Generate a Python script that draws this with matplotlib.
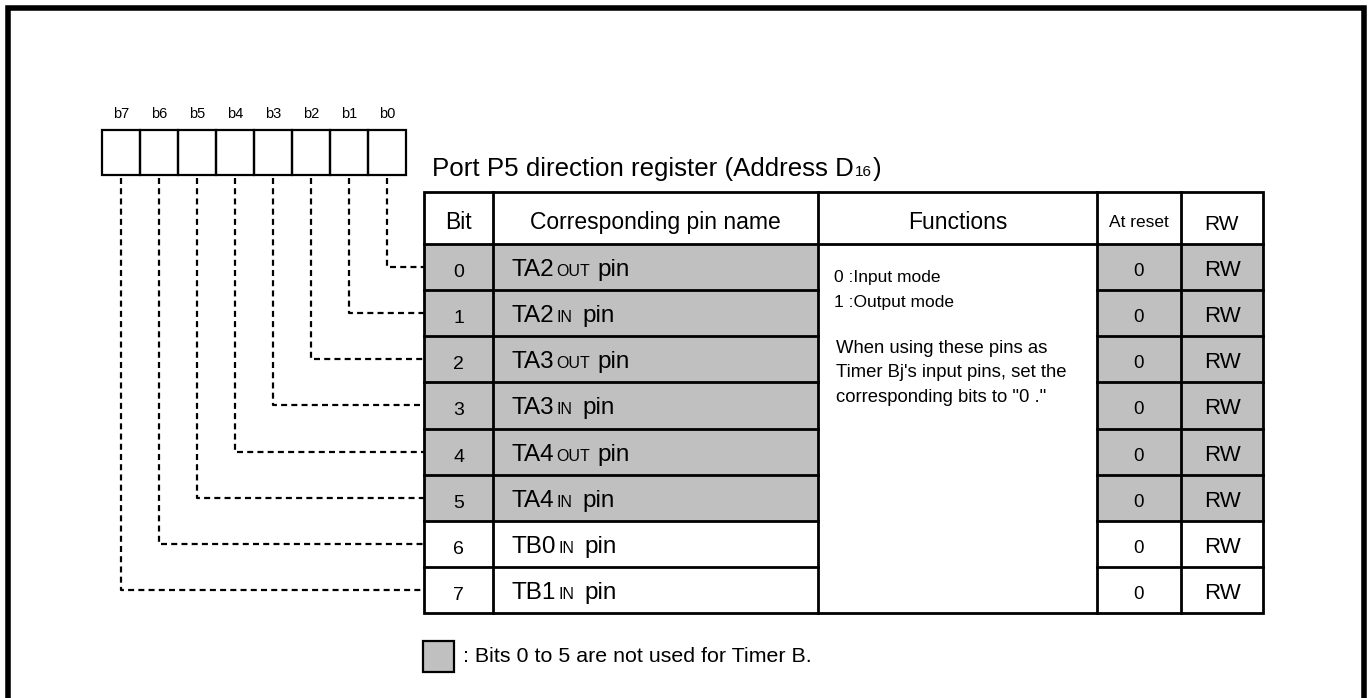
import matplotlib
matplotlib.use("Agg")
import matplotlib.pyplot as plt
from matplotlib.patches import Rectangle

plt.rcParams['font.family'] = ['Liberation Sans', 'DejaVu Sans']

# ---------------- data ----------------
bit_box_labels = ["b7", "b6", "b5", "b4", "b3", "b2", "b1", "b0"]
title_main = "Port P5 direction register (Address D"
title_sub = "16"
title_end = ")"
headers = ["Bit", "Corresponding pin name", "Functions", "At reset", "RW"]
bit_numbers = [0, 1, 2, 3, 4, 5, 6, 7]
pin_base = ["TA2", "TA2", "TA3", "TA3", "TA4", "TA4", "TB0", "TB1"]
pin_sub = ["OUT", "IN", "OUT", "IN", "OUT", "IN", "IN", "IN"]
pin_tail = "pin"
at_reset = ["0", "0", "0", "0", "0", "0", "0", "0"]
rw = ["RW", "RW", "RW", "RW", "RW", "RW", "RW", "RW"]
shaded = [True, True, True, True, True, True, False, False]
func_lines_a = ["0 :Input mode", "1 :Output mode"]
func_lines_b = ["When using these pins as", "Timer Bj's input pins, set the",
                "corresponding bits to \"0 .\""]
legend_text = ": Bits 0 to 5 are not used for Timer B."

# ---------------- layout ----------------
W, H = 1368, 698
GRAY = "#c0c0c0"
fig = plt.figure(figsize=(W / 100, H / 100), dpi=100)
ax = fig.add_axes([0, 0, 1, 1])
ax.set_xlim(0, W)
ax.set_ylim(H, 0)
ax.axis("off")
renderer = fig.canvas.get_renderer()

# outer frame
ax.plot([7.5, 7.5, 1364, 1364], [H + 10, 7.5, 7.5, H + 10], color="black",
        lw=4, solid_joinstyle="miter", solid_capstyle="butt")

# bit boxes
box_x0, box_w, box_y0, box_h = 102, 38, 130, 45
for i, lab in enumerate(bit_box_labels):
    x = box_x0 + i * box_w
    ax.add_patch(Rectangle((x, box_y0), box_w, box_h, fill=False, ec="black", lw=1.6))
    ax.text(x + box_w / 2, 118, lab, ha="center", va="baseline", fontsize=10.5)

# table geometry
col_x = [424, 493, 818, 1097, 1181, 1263]
head_top, head_bot = 192, 244
row_h = (613 - 244) / 8

def row_top(r):
    return head_bot + r * row_h

# shaded cells
for r, sh in enumerate(shaded):
    if sh:
        for c in (0, 1, 3, 4):
            ax.add_patch(Rectangle((col_x[c], row_top(r)), col_x[c + 1] - col_x[c], row_h,
                                   fc=GRAY, ec="none", zorder=1))

LW = 2.0
# outer table box
ax.add_patch(Rectangle((col_x[0], head_top), col_x[-1] - col_x[0], 613 - head_top,
                       fill=False, ec="black", lw=LW, zorder=3))
# vertical lines
for x in col_x[1:-1]:
    ax.plot([x, x], [head_top, 613], color="black", lw=LW, zorder=3)
# header bottom
ax.plot([col_x[0], col_x[-1]], [head_bot, head_bot], color="black", lw=LW, zorder=3)
# row lines (skip functions column)
for r in range(1, 8):
    y = row_top(r)
    ax.plot([col_x[0], col_x[2]], [y, y], color="black", lw=LW, zorder=3)
    ax.plot([col_x[3], col_x[5]], [y, y], color="black", lw=LW, zorder=3)

# title
t = ax.text(432, 176, title_main, fontsize=18.6, va="baseline", ha="left")
bb = t.get_window_extent(renderer)
x2 = ax.transData.inverted().transform((bb.x1, 0))[0]
t2 = ax.text(x2 + 1, 176, title_sub, fontsize=11, va="baseline", ha="left")
bb2 = t2.get_window_extent(renderer)
x3 = ax.transData.inverted().transform((bb2.x1, 0))[0]
ax.text(x3 + 1, 176, title_end, fontsize=18.6, va="baseline", ha="left")

# headers
head_sizes = [16.5, 16.5, 16.5, 12.5, 15]
head_base = [229, 229, 229, 227, 230]
for c, (h, fs, yb) in enumerate(zip(headers, head_sizes, head_base)):
    ax.text((col_x[c] + col_x[c + 1]) / 2, yb, h, ha="center", va="baseline", fontsize=fs)

# rows
for r in range(8):
    yc = row_top(r) + row_h / 2
    ax.text((col_x[0] + col_x[1]) / 2, yc + 10, str(bit_numbers[r]), ha="center",
            va="baseline", fontsize=14, zorder=4)
    tb = ax.text(512, yc + 9, pin_base[r], ha="left", va="baseline", fontsize=17.5, zorder=4)
    bb = tb.get_window_extent(renderer)
    xs = ax.transData.inverted().transform((bb.x1, 0))[0]
    ts = ax.text(xs + 2, yc + 9, pin_sub[r], ha="left", va="baseline", fontsize=11.5, zorder=4)
    bb = ts.get_window_extent(renderer)
    xt = ax.transData.inverted().transform((bb.x1, 0))[0]
    gap = 7 if pin_sub[r] == "OUT" else 10
    ax.text(xt + gap, yc + 9, pin_tail, ha="left", va="baseline", fontsize=17.5, zorder=4)
    ax.text((col_x[3] + col_x[4]) / 2, yc + 9, at_reset[r], ha="center", va="baseline",
            fontsize=13.5, zorder=4)
    ax.text((col_x[4] + col_x[5]) / 2, yc + 9, rw[r], ha="center", va="baseline",
            fontsize=16, zorder=4)

# functions text
for k, line in enumerate(func_lines_a):
    ax.text(834, 282 + k * 24.5, line, ha="left", va="baseline", fontsize=12.5)
for k, line in enumerate(func_lines_b):
    ax.text(836, 353 + k * 24.3, line, ha="left", va="baseline", fontsize=13.3)

# dashed connectors
for i in range(8):
    bit = 7 - i
    x = box_x0 + i * box_w + box_w / 2
    y = row_top(bit) + row_h / 2
    ax.plot([x, x, col_x[0]], [box_y0 + box_h + 3, y, y], color="black", lw=1.6,
            dashes=(2.7, 1.9), solid_joinstyle="miter", zorder=2)

# legend
ax.add_patch(Rectangle((423, 641), 31, 31, fc=GRAY, ec="black", lw=1.6))
ax.text(463, 662, legend_text, ha="left", va="baseline", fontsize=15.4)

fig.savefig("out.png", dpi=100)
